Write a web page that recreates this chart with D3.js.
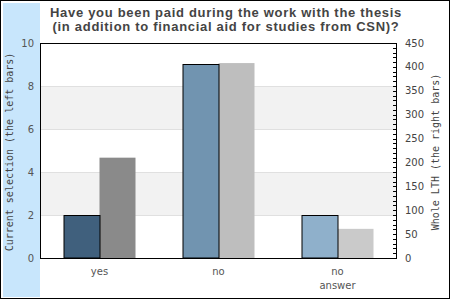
<!DOCTYPE html>
<html>
<head>
<meta charset="utf-8">
<script src="https://cdn.jsdelivr.net/npm/d3@7"></script>
<style>
  body { margin: 0; background: #fff; }
  svg { display: block; }
</style>
</head>
<body>
<div id="chart-area"></div>
<script>
// Chart data
const categories = ["yes", "no", "no answer"];
const selectionValues = [2, 9, 2];       // left bars, left axis
const lthValues = [210, 408, 61];        // right bars, right axis
const leftColors = ["#40607d", "#7194b0", "#8fb0cb"];
const rightColors = ["#8a8a8a", "#bebebe", "#cacaca"];
const leftTicks = [0, 2, 4, 6, 8, 10];
const rightTicks = [0, 50, 100, 150, 200, 250, 300, 350, 400, 450];
const titleLines = ["Have you been paid during the work with the thesis",
                    "(in addition to financial aid for studies from CSN)?"];

const W = 450, H = 300;
const margin = { top: 43, right: 53, bottom: 42, left: 40 };
const width = W - margin.left - margin.right;
const height = H - margin.top - margin.bottom;

const svg = d3.select("#chart-area").append("svg")
  .attr("width", W)
  .attr("height", H);

// Frame and left strip
svg.append("rect")
  .attr("x", 0.5).attr("y", 0.5)
  .attr("width", W - 1).attr("height", H - 2)
  .attr("fill", "#fff")
  .attr("stroke", "#000");

svg.append("rect")
  .attr("x", 3).attr("y", 3)
  .attr("width", 37).attr("height", 294)
  .attr("fill", "#c8e6fc");

// Title
svg.append("text")
  .attr("x", 226)
  .attr("y", 17)
  .attr("text-anchor", "middle")
  .style("font-family", "'Liberation Sans', Arial, sans-serif")
  .style("font-weight", "bold")
  .style("font-size", "13px")
  .style("letter-spacing", "0.7px")
  .style("fill", "#444")
  .selectAll("tspan")
  .data(titleLines)
  .join("tspan")
  .attr("x", 226)
  .attr("dy", (d, i) => i === 0 ? 0 : 14)
  .text(d => d);

const chart = svg.append("g")
  .attr("transform", `translate(${margin.left}, ${margin.top})`);

// Scales
const x = d3.scaleBand().domain(categories).range([0, width]);
const y = d3.scaleLinear().domain([0, 10]).range([height, 0]);
const y2 = d3.scaleLinear().domain([0, 450]).range([height, 0]);
const barW = 36;

// Background bands and grid lines
const bands = [[2, 4], [6, 8]];
chart.selectAll(".band")
  .data(bands)
  .join("rect")
  .attr("x", 0)
  .attr("y", d => y(d[1]))
  .attr("width", width)
  .attr("height", d => y(d[0]) - y(d[1]))
  .attr("fill", "#f2f2f2");

chart.selectAll(".grid")
  .data([2, 4, 6, 8])
  .join("line")
  .attr("x1", 0).attr("x2", width)
  .attr("y1", d => Math.round(y(d)) + 0.5)
  .attr("y2", d => Math.round(y(d)) + 0.5)
  .attr("stroke", "#e0e0e0");

// Right bars
chart.selectAll(".bar-right")
  .data(lthValues)
  .join("rect")
  .attr("x", (d, i) => x(categories[i]) + x.bandwidth() / 2)
  .attr("y", d => y2(d))
  .attr("width", barW)
  .attr("height", d => height - y2(d))
  .attr("fill", (d, i) => rightColors[i]);

// Left bars
chart.selectAll(".bar-left")
  .data(selectionValues)
  .join("rect")
  .attr("x", (d, i) => x(categories[i]) + x.bandwidth() / 2 - barW + 0.5)
  .attr("y", d => Math.round(y(d)) + 0.5)
  .attr("width", barW)
  .attr("height", d => height - Math.round(y(d)) - 0.5)
  .attr("fill", (d, i) => leftColors[i])
  .attr("stroke", "#000");

// Plot frame
chart.append("rect")
  .attr("x", 0.5).attr("y", 0.5)
  .attr("width", width - 1).attr("height", height)
  .attr("fill", "none")
  .attr("stroke", "#000");

// Left axis labels
chart.selectAll(".ytick")
  .data(leftTicks)
  .join("text")
  .attr("x", -6)
  .attr("y", d => y(d))
  .attr("dy", "0.35em")
  .attr("text-anchor", "end")
  .style("font-family", "'DejaVu Sans', sans-serif")
  .style("font-size", "10px")
  .style("fill", "#555")
  .text(d => d);

// Right axis with minor ticks
const minor = d3.range(0, 451, 10);
chart.selectAll(".minor")
  .data(minor)
  .join("line")
  .attr("x1", width - 4).attr("x2", width)
  .attr("y1", d => Math.round(y2(d)) + 0.5)
  .attr("y2", d => Math.round(y2(d)) + 0.5)
  .attr("stroke", "#000");

chart.selectAll(".y2tick")
  .data(rightTicks)
  .join("text")
  .attr("x", width + 8)
  .attr("y", d => y2(d))
  .attr("dy", "0.35em")
  .attr("text-anchor", "start")
  .style("font-family", "'DejaVu Sans', sans-serif")
  .style("font-size", "10px")
  .style("fill", "#444")
  .text(d => d);

// Category labels
const catLabel = chart.selectAll(".cat")
  .data(categories)
  .join("text")
  .attr("y", height + 17)
  .attr("text-anchor", "middle")
  .style("font-family", "'DejaVu Sans', sans-serif")
  .style("font-size", "10px")
  .style("fill", "#555");

catLabel.selectAll("tspan")
  .data(d => d.split(" ").map(w => ({ w, c: d })))
  .join("tspan")
  .attr("x", d => x(d.c) + x.bandwidth() / 2)
  .attr("dy", (d, i) => i === 0 ? 0 : 14)
  .text(d => d.w);

// Axis titles
svg.append("text")
  .attr("transform", `translate(13, 152) rotate(-90)`)
  .attr("text-anchor", "middle")
  .style("font-family", "'DejaVu Sans Mono', monospace")
  .style("font-size", "10px")
  .style("fill", "#444")
  .text("Current selection (the left bars)");

svg.append("text")
  .attr("transform", `translate(439, 152) rotate(-90)`)
  .attr("text-anchor", "middle")
  .style("font-family", "'DejaVu Sans Mono', monospace")
  .style("font-size", "10px")
  .style("fill", "#444")
  .text("Whole LTH (the right bars)");
</script>
</body>
</html>
